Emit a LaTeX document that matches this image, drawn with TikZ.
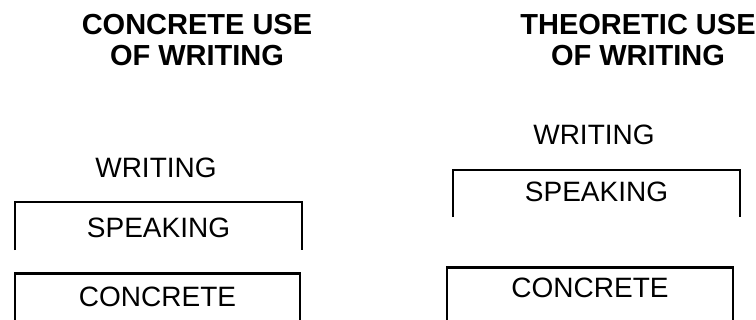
\documentclass[tikz,border=0pt]{standalone}
\usepackage{fontspec}
\setmainfont{Liberation Sans}
\usetikzlibrary{positioning}

\begin{document}
\begin{tikzpicture}[
  x=1pt, y=-1pt,
  head/.style={font=\bfseries\fontsize{29}{31}\selectfont, align=center, inner sep=0pt},
  word/.style={font=\fontsize{28}{34}\selectfont, inner sep=0pt},
  layer/.style={word, minimum width=287pt},
  bracket/.style={line width=2.5pt}
]
\useasboundingbox (0,0) rectangle (756,320);

% left: concrete use
\node[head] (conc) at (197,40) {CONCRETE USE\\OF WRITING};
\node[word] (wrl) at (156,168) {WRITING};
\node[layer, minimum height=52pt, below=24pt of wrl.south, xshift=2.5pt] (spl) {SPEAKING};
\node[layer, minimum width=285pt, minimum height=46pt, below=19pt of spl.south, xshift=-1pt] (col) {CONCRETE};

% right: theoretic use
\node[head] (theo) at (638,40) {THEORETIC USE\\OF WRITING};
\node[word] (wrr) at (594,135) {WRITING};
\node[layer, minimum height=44pt, below=25pt of wrr.south, xshift=2.5pt] (spr) {SPEAKING};
\node[layer, minimum width=286pt, minimum height=40pt, below=53pt of spr.south, xshift=-6.5pt] (cor) {CONCRETE};

\draw[bracket] ([yshift=-48pt]spl.north west) |- (spl.north) -| ([yshift=-48pt]spl.north east);
\draw[bracket] ([yshift=-50pt]col.north west) |- (col.north) -| ([yshift=-50pt]col.north east);
\draw[bracket] ([yshift=-47pt]spr.north west) |- (spr.north) -| ([yshift=-47pt]spr.north east);
\draw[bracket] ([yshift=-55pt]cor.north west) |- (cor.north) -| ([yshift=-55pt]cor.north east);
\end{tikzpicture}
\end{document}
